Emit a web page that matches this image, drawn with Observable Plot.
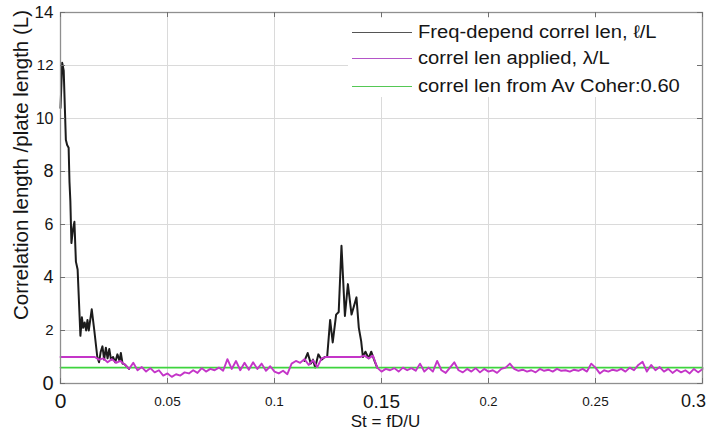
<!DOCTYPE html>
<html><head><meta charset="utf-8">
<script src="https://cdn.jsdelivr.net/npm/d3@7"></script>
<script src="https://cdn.jsdelivr.net/npm/@observablehq/plot@0.6"></script>
<style>
body{margin:0;background:#fff;}
#wrap{position:relative;width:711px;height:432px;overflow:hidden;background:#fff;}
#legend{position:absolute;left:348px;top:17.5px;width:349px;height:79px;background:#fff;overflow:hidden;font-family:"Liberation Sans",Arial,sans-serif;color:#151515;}
.row{position:absolute;left:0;width:349px;height:24px;}
.sw{position:absolute;left:4px;width:60px;height:0;border-top:1.6px solid;top:11px;}
.lab{position:absolute;left:70px;top:0;font-size:18px;line-height:22px;white-space:nowrap;transform:scaleX(1.12);transform-origin:0 50%;}
#clip{position:absolute;left:0;top:0;width:336px;height:79px;overflow:hidden;}
</style>
</head><body>
<div id="wrap"></div>
<script>
// ---- data ----
// Freq-depend correl len (black), low-frequency part
const earlySt  = [0,0.0008,0.0015,0.0025,0.0031,0.0038,0.0042,0.0046,0.0051,0.0058,0.0065,0.0072,0.0080,0.0093,0.0100,0.0106,0.0113,0.0120,0.0126,0.0132,0.0146,0.0158,0.0172,0.0180,0.0188,0.0196,0.0204,0.0212,0.0220,0.0228,0.0236,0.0246,0.0256,0.0266,0.0276,0.0282,0.0290,0.0300,0.0320];
const earlyLen = [10.4,12.1,11.8,9.2,9.0,8.9,7.6,6.9,5.3,5.8,6.1,4.6,4.3,1.8,2.5,2.1,2.3,2.0,2.4,2.0,2.8,2.0,1.0,0.8,1.2,1.4,0.9,1.35,0.95,1.3,0.9,1.0,0.8,1.1,0.85,1.15,0.75,0.72,0.55];
// Freq-depend correl len (black), vortex-shedding peak
const peakSt  = [0.1140,0.1155,0.1170,0.1180,0.1190,0.1205,0.1220,0.1235,0.1246,0.1260,0.1272,0.1288,0.1300,0.1313,0.1329,0.1343,0.1360,0.1383,0.1394,0.1405,0.1413,0.1425,0.1440,0.1452,0.1470,0.1480];
const peakLen = [0.85,1.15,0.75,0.9,0.6,1.1,0.9,1.0,1.0,2.4,1.55,2.6,2.7,5.2,2.55,3.75,2.6,3.25,2.1,1.6,1.0,1.2,0.95,1.2,0.8,0.6];
// correl len applied (magenta), sampled every 0.002 in St from 0 to 0.3
const appliedStep = 0.002;
const applied = [
 1.0,1.0,1.0,1.0,1.0,1.0,1.0,1.0,1.0,0.9,
 0.95,0.8,0.92,0.78,0.85,0.72,0.55,0.78,0.5,0.62,
 0.45,0.58,0.42,0.5,0.3,0.38,0.25,0.35,0.3,0.42,
 0.38,0.5,0.4,0.58,0.45,0.55,0.5,0.6,0.48,0.92,
 0.55,0.85,0.5,0.78,0.52,0.8,0.55,0.75,0.48,0.65,
 0.45,0.38,0.48,0.35,0.75,0.85,0.78,0.92,0.7,0.88,
 0.62,0.95,1.0,1.0,1.0,1.0,1.0,1.0,1.0,1.0,
 1.0,1.05,0.95,1.05,0.6,0.45,0.55,0.5,0.58,0.45,
 0.6,0.5,0.58,0.48,0.75,0.45,0.6,0.45,0.85,0.5,
 0.4,0.6,0.8,0.5,0.42,0.55,0.45,0.58,0.42,0.55,
 0.45,0.5,0.4,0.55,0.6,0.75,0.55,0.48,0.52,0.45,
 0.5,0.42,0.55,0.48,0.52,0.45,0.55,0.48,0.5,0.45,
 0.52,0.48,0.55,0.45,0.75,0.6,0.38,0.5,0.45,0.52,
 0.48,0.55,0.45,0.6,0.5,0.7,0.82,0.45,0.7,0.5,
 0.62,0.45,0.55,0.4,0.52,0.42,0.5,0.38,0.55,0.42,
 0.55
];
// correl len from average coherence (green)
const coherSt = [0, 0.3];
const coherLen = [0.60, 0.60];

const xTicks = [0,0.05,0.1,0.15,0.2,0.25,0.3];
const xTickLabels = ["0","0.05","0.1","0.15","0.2","0.25","0.3"];
const yTicks = [0,2,4,6,8,10,12,14];
const yTickLabels = ["0","2","4","6","8","10","12","14"];

const legendLabels = ["Freq-depend correl len, \u2113/L","correl len applied, \u03bb/L","correl len from Av Coher:0.60"];

// ---- styles (scanned-figure look: uneven label sizes) ----
const xLabelSize = [21,13.5,13.5,19,13,13.5,18];
const yLabelSize = [20,15,18,16,18,16,15,17];
const colors = {black:"#1c1c1c", magenta:"#c435c8", green:"#3ed43e"};
const swatch = ["#555555","#b455c8","#55c855"];

// ---- tables ----
const early = earlySt.map((s,i)=>({s, v:earlyLen[i]}));
const peak = peakSt.map((s,i)=>({s, v:peakLen[i]}));
const appl = applied.map((v,i)=>({s:i*appliedStep, v}));
const coher = coherSt.map((s,i)=>({s, v:coherLen[i]}));
const xt = xTicks.map((t,i)=>({t, label:xTickLabels[i], size:xLabelSize[i]}));
const yt = yTicks.map((t,i)=>({t, label:yTickLabels[i], size:yLabelSize[i]}));
const xtMain = xt.filter(d=>d.t<0.3), xtLast = xt.filter(d=>d.t>=0.3);

const W=711,H=432, mL=60, mR=9, mT=12, mB=49;
const plotW=W-mL-mR, plotH=H-mT-mB;

const chart = Plot.plot({
  width:W, height:H,
  marginLeft:mL, marginRight:mR, marginTop:mT, marginBottom:mB,
  x:{domain:[0,0.3], axis:null},
  y:{domain:[0,14], axis:null},
  style:{fontFamily:"'Liberation Sans', Arial, sans-serif", background:"#fff", overflow:"visible"},
  marks:[
    Plot.gridX(xTicks,{stroke:"#dadada", strokeOpacity:1, strokeWidth:1}),
    Plot.gridY(yTicks,{stroke:"#dadada", strokeOpacity:1, strokeWidth:1}),
    Plot.line(early,{x:"s", y:"v", stroke:colors.black, strokeWidth:2}),
    Plot.line(peak,{x:"s", y:"v", stroke:colors.black, strokeWidth:2}),
    Plot.line(coher,{x:"s", y:"v", stroke:colors.green, strokeWidth:1.8}),
    Plot.line(appl,{x:"s", y:"v", stroke:colors.magenta, strokeWidth:1.9}),
    Plot.frame({stroke:"#8f8f8f", strokeWidth:1.3}),
    Plot.tickX(xTicks,{x:d=>d, insetTop:plotH-5, stroke:"#707070"}),
    Plot.tickX(xTicks,{x:d=>d, insetBottom:plotH-5, stroke:"#707070"}),
    Plot.tickY(yTicks,{y:d=>d, insetRight:plotW-5, stroke:"#707070"}),
    Plot.tickY(yTicks,{y:d=>d, insetLeft:plotW-5, stroke:"#707070"}),
    Plot.text(xtMain,{x:"t", y:()=>0, text:"label", fontSize:d=>d.size, dy:18, fill:"#151515", lineAnchor:"middle", textAnchor:"middle"}),
    Plot.text(xtLast,{x:"t", y:()=>0, text:"label", fontSize:d=>d.size, dy:18, dx:-9, fill:"#151515", lineAnchor:"middle", textAnchor:"middle"}),
    Plot.text(yt,{x:()=>0, y:"t", text:"label", fontSize:d=>d.size, dx:-7, textAnchor:"end", fill:"#151515", lineAnchor:"middle"}),
    Plot.text(["St = fD/U"],{frameAnchor:"bottom", dy:38, dx:4, fontSize:17, fill:"#151515", lineAnchor:"middle", textAnchor:"middle"}),
    Plot.text(["Correlation length /plate length (L)"],{frameAnchor:"left", rotate:-90, dx:-39, dy:-33, fontSize:20.5, fill:"#151515", textAnchor:"middle", lineAnchor:"middle"})
  ]
});
document.getElementById("wrap").appendChild(chart);

// legend overlay (inside plot area, top-right)
const leg = document.createElement("div");
leg.id = "legend";
const clip = document.createElement("div");
clip.id = "clip";
leg.appendChild(clip);
const rowTops = [3, 29.5, 57];
legendLabels.forEach((t,i)=>{
  const r = document.createElement("div");
  r.className="row"; r.style.top = rowTops[i]+"px";
  const sw = document.createElement("div"); sw.className="sw"; sw.style.borderTopColor = swatch[i];
  const lb = document.createElement("div"); lb.className="lab"; lb.textContent = t;
  r.appendChild(sw); r.appendChild(lb); clip.appendChild(r);
});
document.getElementById("wrap").appendChild(leg);
</script>
</body></html>
